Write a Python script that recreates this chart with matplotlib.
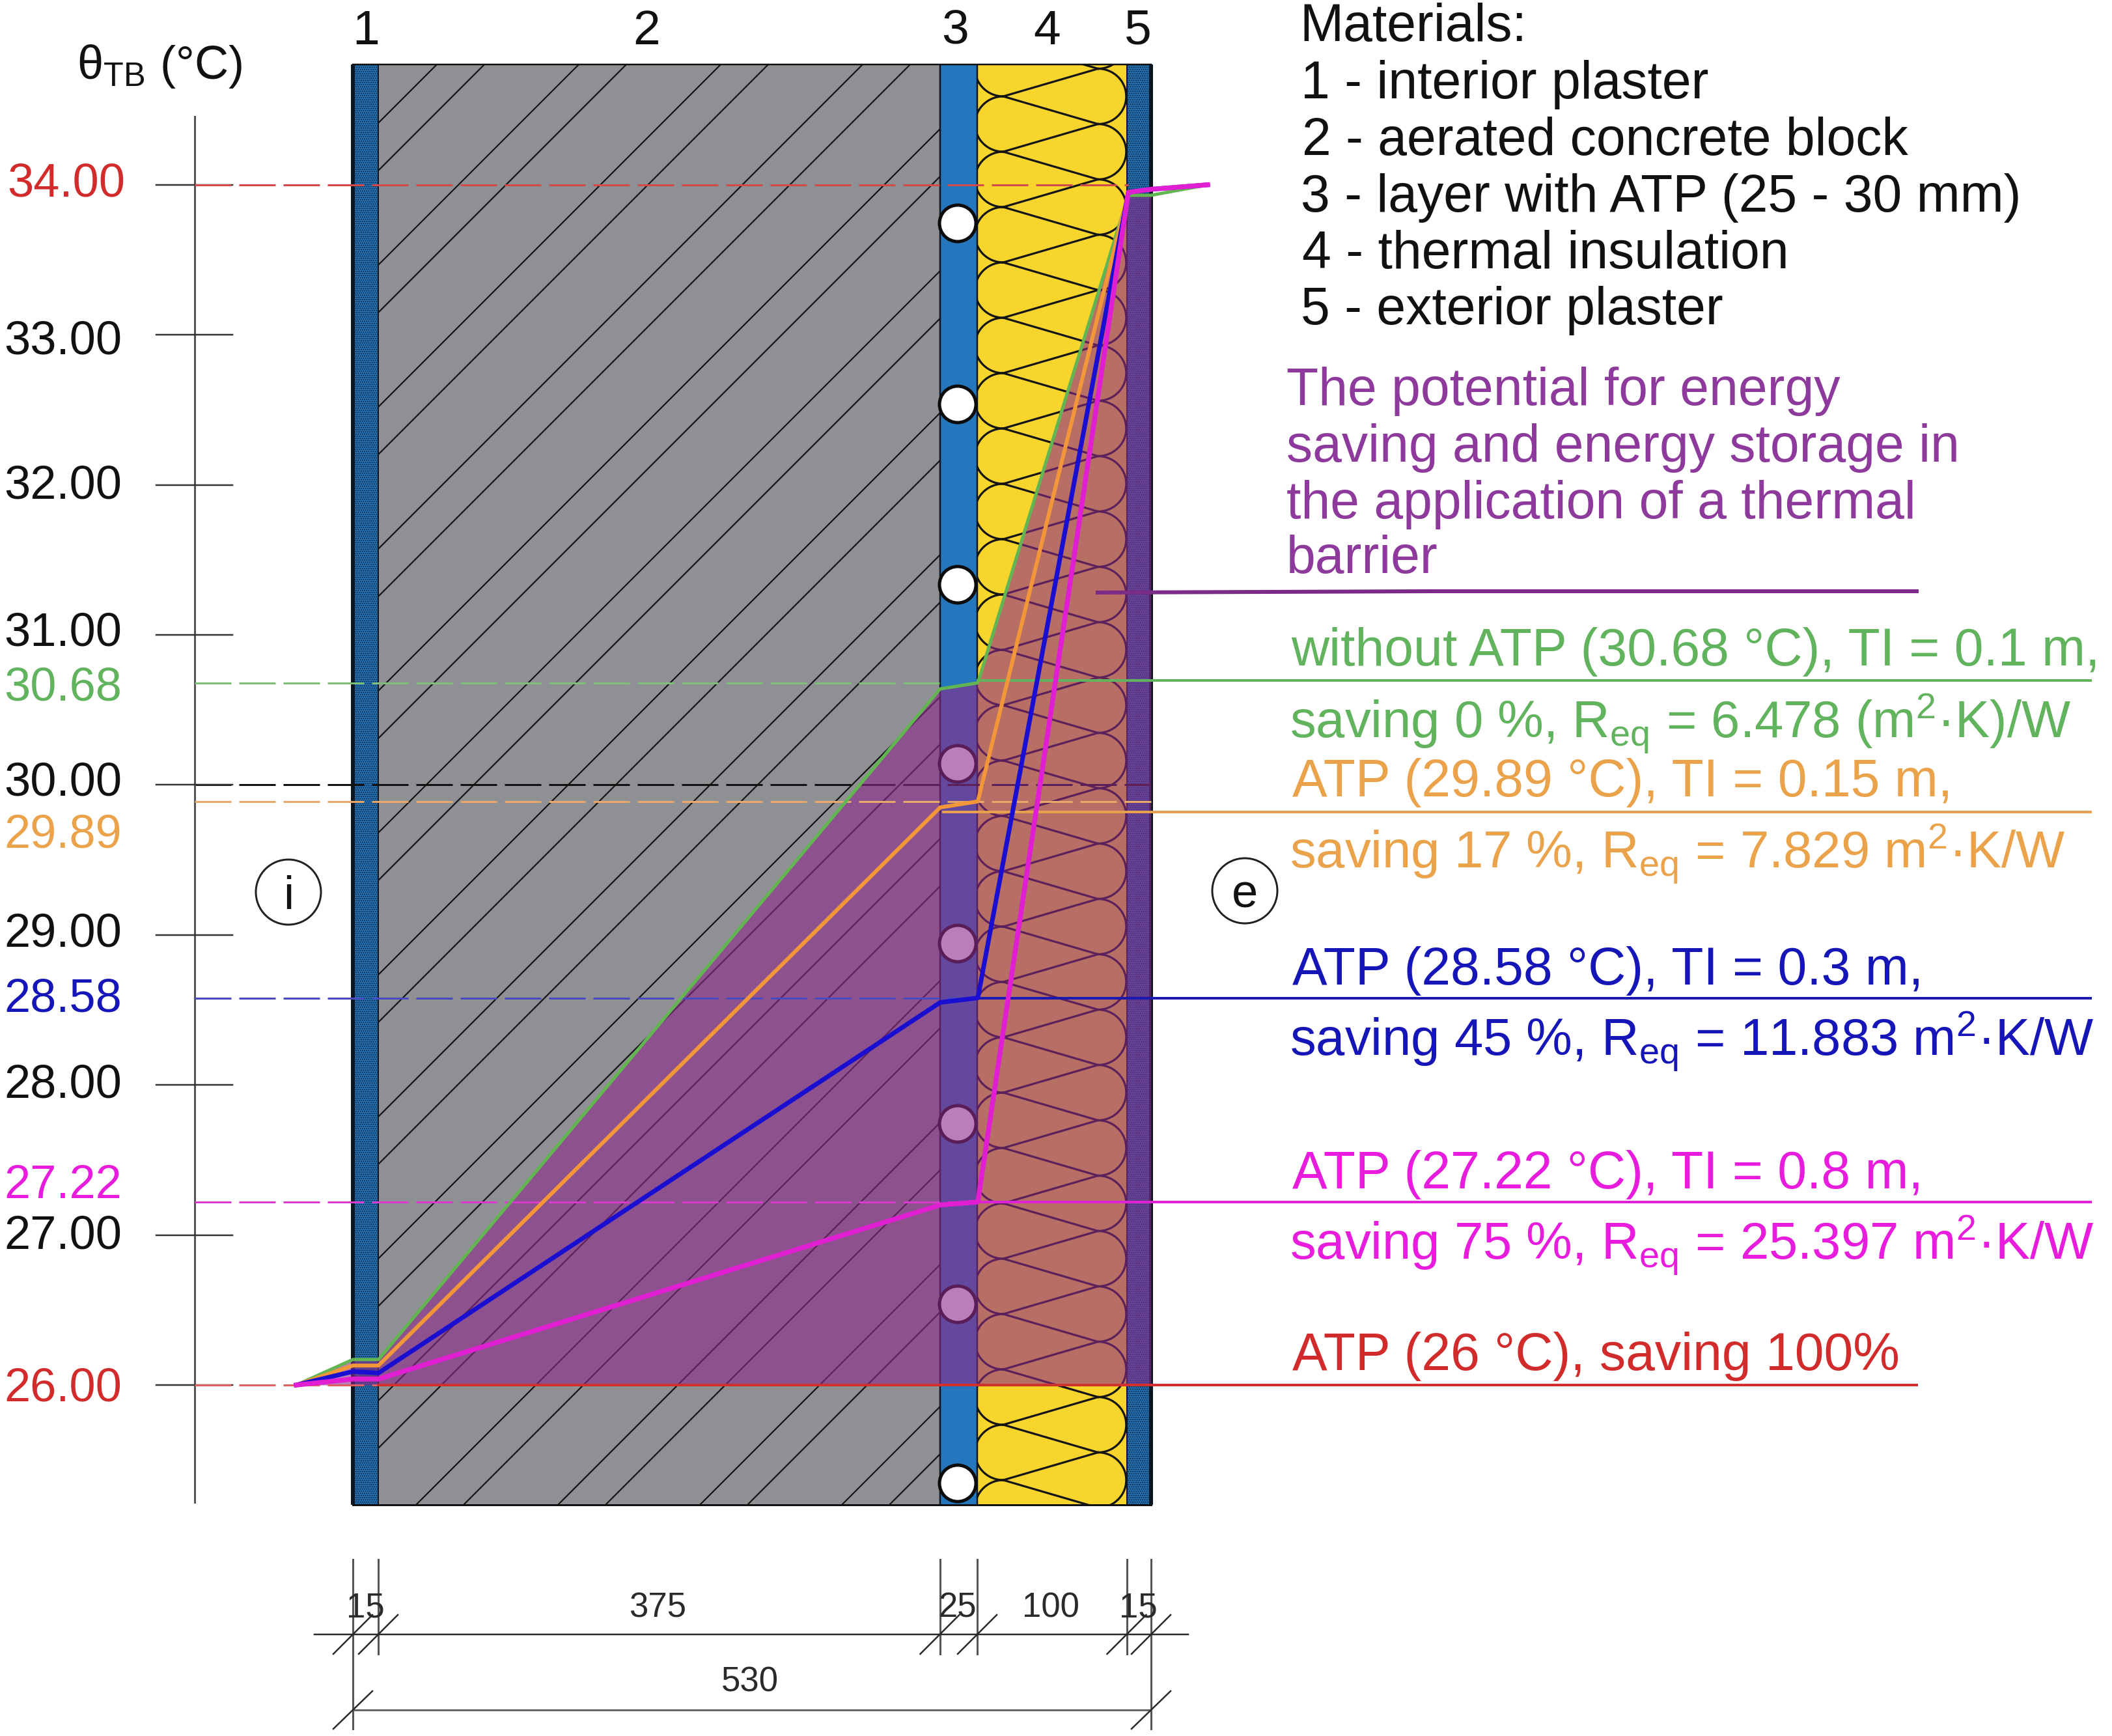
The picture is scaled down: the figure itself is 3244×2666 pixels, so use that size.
import matplotlib
matplotlib.use("Agg")
import matplotlib.pyplot as plt
from matplotlib.patches import Rectangle, Circle
import numpy as np

plt.rcParams['font.family'] = ['Liberation Sans', 'DejaVu Sans']
plt.rcParams['mathtext.fontset'] = 'custom'
plt.rcParams['mathtext.rm'] = 'Liberation Sans'
plt.rcParams['mathtext.it'] = 'Liberation Sans:italic'
plt.rcParams['mathtext.bf'] = 'Liberation Sans:bold'
plt.rcParams['mathtext.default'] = 'regular'
plt.rcParams['lines.scale_dashes'] = False
plt.rcParams['hatch.linewidth'] = 1.1

# ---- data ----
temp_ticks = [34, 33, 32, 31, 30, 29, 28, 27, 26]
temp_labels = ["34.00", "33.00", "32.00", "31.00", "30.68", "30.00", "29.89",
               "29.00", "28.58", "28.00", "27.22", "27.00", "26.00"]
layer_numbers = ["1", "2", "3", "4", "5"]
layer_thickness = ["15", "375", "25", "100", "15"]
total_thickness = "530"
materials = ["Materials:", "1 - interior plaster", "2 - aerated concrete block",
             "3 - layer with ATP (25 - 30 mm)", "4 - thermal insulation",
             "5 - exterior plaster"]
potential_text = ["The potential for energy", "saving and energy storage in",
                  "the application of a thermal", "barrier"]

x_mm = [-37.6, 0, 17, 390, 415, 515, 530, 567.6]
t_green = [26.0, 26.17, 26.17, 30.64, 30.68, 33.93, 33.93, 34.0]
t_orange = [26.0, 26.13, 26.13, 29.85, 29.89, 33.95, 33.97, 34.0]
t_blue = [26.0, 26.09, 26.08, 28.55, 28.58, 33.95, 33.97, 34.0]
t_magenta = [26.0, 26.04, 26.04, 27.2, 27.22, 33.95, 33.97, 34.0]
levels = [34.0, 30.68, 30.0, 29.89, 28.58, 27.22, 26.0]

# ---- scale calibration (pixels) ----
W, H = 3244, 2666
MM0, MMK = 542.0, 2.313
T26, TK = 2127.0, 230.4
px = lambda v: v * 0.72   # px -> pt at dpi 100

fig = plt.figure(figsize=(W / 100, H / 100), dpi=100, facecolor='white')
deco = fig.add_axes([0, 0, 1, 1])
deco.set_xlim(0, W); deco.set_ylim(H, 0); deco.axis('off')
ax = fig.add_axes([0, 0, 1, 1], facecolor='none')
ax.set_xlim((0 - MM0) / MMK, (W - MM0) / MMK)
ax.set_ylim(26 - (H - T26) / TK, 26 + T26 / TK)
ax.axis('off')

P = deco.transData
TOP, BOT = 99, 2311
E = [542, 581, 1443.5, 1501, 1730.5, 1768]

# ---- wall layers ----
BLUE, GRAY, YEL = '#2577BD', '#8F9094', '#F8D52D'
deco.add_patch(Rectangle((E[1], TOP), E[2] - E[1], BOT - TOP, fc=GRAY, ec='none', zorder=1))
deco.add_patch(Rectangle((E[2], TOP), E[3] - E[2], BOT - TOP, fc=BLUE, ec='none', zorder=1))
deco.add_patch(Rectangle((E[3], TOP), E[4] - E[3], BOT - TOP, fc=YEL, ec='none', zorder=1))
for a, b in [(E[0], E[1]), (E[4], E[5])]:
    deco.add_patch(Rectangle((a, TOP), b - a, BOT - TOP, fc=BLUE, ec='#0E2238', hatch='.....',
                             lw=0, zorder=1))

# diagonal hatch of the block layer
clip2 = Rectangle((E[1], TOP), E[2] - E[1], BOT - TOP, transform=P)
for k in range(-12, 4):
    for c0 in (2950, 3023):
        c = c0 + 218 * k
        l, = deco.plot([0, c], [c, 0], color='#151515', lw=px(2.2), zorder=2)
        l.set_clip_path(clip2)

# insulation loops
clip4 = Rectangle((E[3], TOP), E[4] - E[3], BOT - TOP, transform=P)
PER, XL, XR = 85.0, 1541.0, 1686.5
R = PER / 2
def lobe(xc, y0, side):
    t = np.linspace(-np.pi / 2, np.pi / 2, 40)
    return xc + side * R * np.cos(t) * 1.02, y0 + R + R * np.sin(t)
yl = 233 - 85 * 3
for k in range(0, 32):
    y = yl + k * PER
    for xs, ys in [lobe(XL, y, -1), lobe(XR, y - R, 1)]:
        l, = deco.plot(xs, ys, color='#141414', lw=px(3.2), zorder=2)
        l.set_clip_path(clip4)
    for yy in (y - R, y + R):
        l, = deco.plot([XL, XR], [y, yy], color='#141414', lw=px(3.2), zorder=2)
        l.set_clip_path(clip4)

# outlines
for x, lw in zip(E, [6, 2, 2.5, 2.5, 2, 6]):
    deco.plot([x, x], [TOP, BOT], color='#0B1622', lw=px(lw), zorder=3, solid_capstyle='butt')
deco.plot([E[0], E[5]], [TOP, TOP], color='#111111', lw=px(2.5), zorder=3)
deco.plot([E[0], E[5]], [BOT, BOT], color='#111111', lw=px(3), zorder=3)

# pipes
for y in [343, 621, 898, 1173, 1449, 1726, 2003, 2278]:
    deco.add_patch(Circle((1471, y), 28, fc='white', ec='#0C0C0C', lw=px(5), zorder=4))

# ---- left temperature axis ----
ax.plot([(299 - MM0) / MMK] * 2, [26 + (T26 - 2307) / TK, 26 + (T26 - 179) / TK],
        color='#555555', lw=px(3), zorder=2)
for t in temp_ticks:
    ax.plot([(240 - MM0) / MMK, (357 - MM0) / MMK], [t, t], color='#333333', lw=px(2.5), zorder=2)

# ---- saving area ----
ax.fill_between(x_mm[:7], 26, t_green[:7], color='#8D298A', alpha=0.6, lw=0, zorder=1)

# ---- dashed reference levels ----
COL = dict(red='#D22B2B', green='#62B35E', orange='#EBA34B', blue='#1616B8',
           mag='#E81CDC', purple='#8E3A9C')
dash_cols = ['#D24A4A', '#7CC077', '#111111', '#E8A868', '#4A4AC0', '#D83ACF', '#E06060']
dash_ends = [515, 390, 530, 530, 415, 415, 415]
dash_z = [2, 2, 0.5, 2, 2, 2, 2]
for lev, c, xe, z in zip(levels, dash_cols, dash_ends, dash_z):
    ax.plot([(299 - MM0) / MMK, xe], [lev, lev], color=c, lw=px(3),
            ls=(0, (px(56), px(12))), zorder=z)

# ---- solid leader lines to the right ----
xend = (3211 - MM0) / MMK
ax.plot([415, xend], [30.696, 30.696], color=COL['green'], lw=px(4), zorder=3)
ax.plot([392, xend], [29.82, 29.82], color='#E8A050', lw=px(4), zorder=3)
ax.plot([415, xend], [28.58, 28.58], color='#1A1AB0', lw=px(4), zorder=3)
ax.plot([415, xend], [27.22, 27.22], color='#DE22D6', lw=px(4), zorder=3)
ax.plot([17, (2944 - MM0) / MMK], [26, 26], color='#D2302C', lw=px(4), zorder=3)
ax.plot([(1686 - MM0) / MMK, (2200 - MM0) / MMK, (2944 - MM0) / MMK],
        [26 + (T26 - 910) / TK, 26 + (T26 - 908) / TK, 26 + (T26 - 908) / TK],
        color='#7B2C86', lw=px(6), zorder=3)

# ---- temperature profiles ----
ax.plot(x_mm, t_green, color='#63B552', lw=px(5), zorder=4, solid_joinstyle='round')
ax.plot(x_mm, t_orange, color='#F2963A', lw=px(6), zorder=4, solid_joinstyle='round')
ax.plot(x_mm, t_blue, color='#1A0FD0', lw=px(7), zorder=4, solid_joinstyle='round')
ax.plot(x_mm, t_magenta, color='#E01FD2', lw=px(7.5), zorder=4, solid_joinstyle='round')

# ---- text ----
FS, FR, FV = 52, 58, 57.3
def T(x, y, s, color='#111111', fs=FS, ha='left', **kw):
    return ax.text(x, y, s, transform=P, color=color, fontsize=fs, ha=ha, va='baseline',
                   zorder=6, **kw)

# temperature labels
label_y = [302, 543, 765, 992, 1076, 1222, 1302, 1453, 1554, 1685, 1840, 1917, 2151]
label_c = [COL['red'], '#111', '#111', '#111', COL['green'], '#111', COL['orange'], '#111',
           COL['blue'], '#111', COL['mag'], '#111', COL['red']]
label_x = [192] + [187] * 12
for s, y, c, x in zip(temp_labels, label_y, label_c, label_x):
    T(x, y, s, color=c, ha='right')
T(118, 121, r"θ$_{\mathrm{TB}}$ (°C)", fs=52)

# layer numbers
for s, x in zip(layer_numbers, [562, 993, 1467, 1608, 1748]):
    T(x, 68, s, ha='center', fs=54)

# materials
for s, y, x in zip(materials, [63, 151, 238, 325, 412, 498], [1996, 1998, 2000, 1998, 2000, 1998]):
    T(x, y, s, fs=FR)
for s, y in zip(potential_text, [622, 709, 796, 880]):
    T(1976, y, s, color=COL['purple'], fs=FR)

# series annotations
T(1983, 1022, "without ATP (30.68 °C), TI = 0.1 m,", color=COL['green'], fs=FR)
T(1981, 1133, r"saving 0 %, R$_{\mathrm{eq}}$ = 6.478 (m$^{2}$·K)/W", color=COL['green'], fs=FV)
T(1985, 1223, "ATP (29.89 °C), TI = 0.15 m,", color=COL['orange'], fs=FR)
T(1981, 1333, r"saving 17 %, R$_{\mathrm{eq}}$ = 7.829 m$^{2}$·K/W", color=COL['orange'], fs=FV)
T(1985, 1512, "ATP (28.58 °C), TI = 0.3 m,", color=COL['blue'], fs=FR)
T(1981, 1621, r"saving 45 %, R$_{\mathrm{eq}}$ = 11.883 m$^{2}$·K/W", color=COL['blue'], fs=FV)
T(1985, 1825, "ATP (27.22 °C), TI = 0.8 m,", color=COL['mag'], fs=FR)
T(1981, 1934, r"saving 75 %, R$_{\mathrm{eq}}$ = 25.397 m$^{2}$·K/W", color=COL['mag'], fs=FV)
T(1985, 2104, "ATP (26 °C), saving 100%", color=COL['red'], fs=FR)

# i / e markers
for x, y, s in [(443, 1370, "i"), (1912, 1368, "e")]:
    deco.add_patch(Circle((x, y), 50, fc='none', ec='#222222', lw=px(3), zorder=5))
    ax.text(x, y, s, transform=P, fontsize=FS, ha='center', va='center_baseline', color='#111', zorder=6)

# dimensions
DC = '#2A2A2A'
for i, x in enumerate(E):
    ybot = 2655 if i in (0, 5) else 2540
    deco.plot([x, x], [2395, ybot], color='#555555', lw=px(3), zorder=2)
deco.plot([483, 1825], [2510, 2510], color=DC, lw=px(2.5), zorder=2)
deco.plot([E[0], E[5]], [2626, 2626], color='#666666', lw=px(3), zorder=2)
for x in E:
    deco.plot([x - 30, x + 30], [2540, 2480], color=DC, lw=px(2.5), zorder=2)
for x in (E[0], E[5]):
    deco.plot([x - 30, x + 30], [2655, 2597], color=DC, lw=px(2.5), zorder=2)
for s, x in zip(layer_thickness, [561, 1010, 1471, 1614, 1748]):
    T(x, 2484, s, ha='center', fs=38, color=DC)
T(1152, 2598, total_thickness, ha='center', fs=38, color=DC)

fig.savefig("out.png", dpi=100, facecolor='white')
